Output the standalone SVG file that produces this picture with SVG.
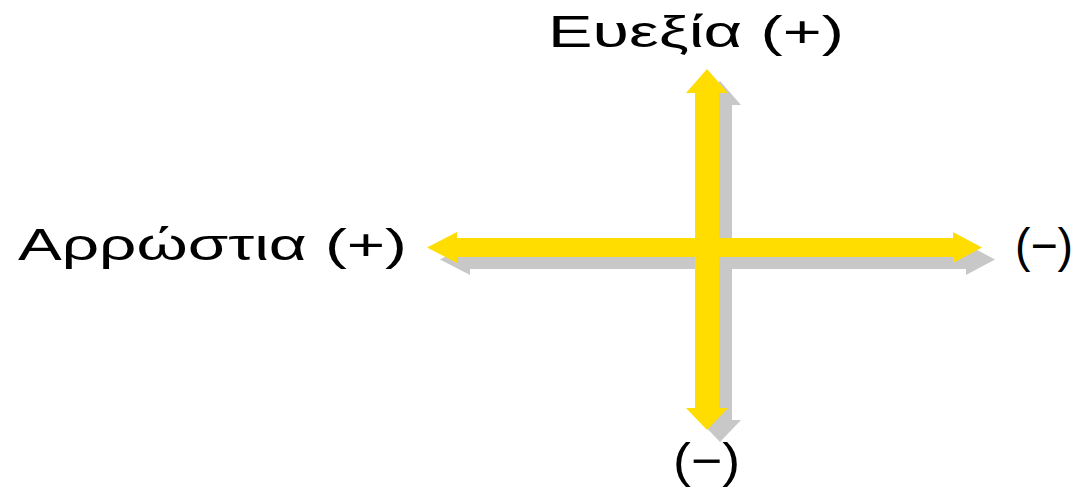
<svg xmlns="http://www.w3.org/2000/svg" width="1076" height="488" viewBox="0 0 1076 488">
  <style>
    .lbl { font-family: "Liberation Sans", Arial, sans-serif; font-size: 45px; fill: #000000; }
    .sign { font-family: "Liberation Sans", Arial, sans-serif; font-size: 48px; fill: #000000; }
    .shadow { fill: #C8C8C8; }
    .arrow { fill: #FFDD00; }
  </style>
  <defs>
    <path id="hArrow" d="M427,247.5 L457,232 L457,238 L953,238 L953,232 L982,247.5 L953,263 L953,257 L457,257 L457,263 Z"/>
    <path id="vArrow" d="M707,69 L728,93 L719,93 L719,408 L728,408 L707,430 L686,408 L695,408 L695,93 L686,93 Z"/>
  </defs>
  <rect width="1076" height="488" fill="#FFFFFF"/>
  <g id="connectors">
    <use href="#hArrow" class="shadow" transform="translate(13,12)"/>
    <use href="#vArrow" class="shadow" transform="translate(13,12)"/>
    <use href="#hArrow" class="arrow"/>
    <use href="#vArrow" class="arrow"/>
  </g>
  <g id="node-top">
    <text class="lbl" x="548" y="47" textLength="296" lengthAdjust="spacingAndGlyphs">Ευεξία (+)</text>
  </g>
  <g id="node-left">
    <text class="lbl" x="18" y="260" textLength="389" lengthAdjust="spacingAndGlyphs">Αρρώστια (+)</text>
  </g>
  <g id="node-right">
    <text class="sign" x="1015" y="262" textLength="58" lengthAdjust="spacingAndGlyphs">(−)</text>
  </g>
  <g id="node-bottom">
    <text class="sign" x="673" y="477" textLength="67" lengthAdjust="spacingAndGlyphs">(−)</text>
  </g>
</svg>
